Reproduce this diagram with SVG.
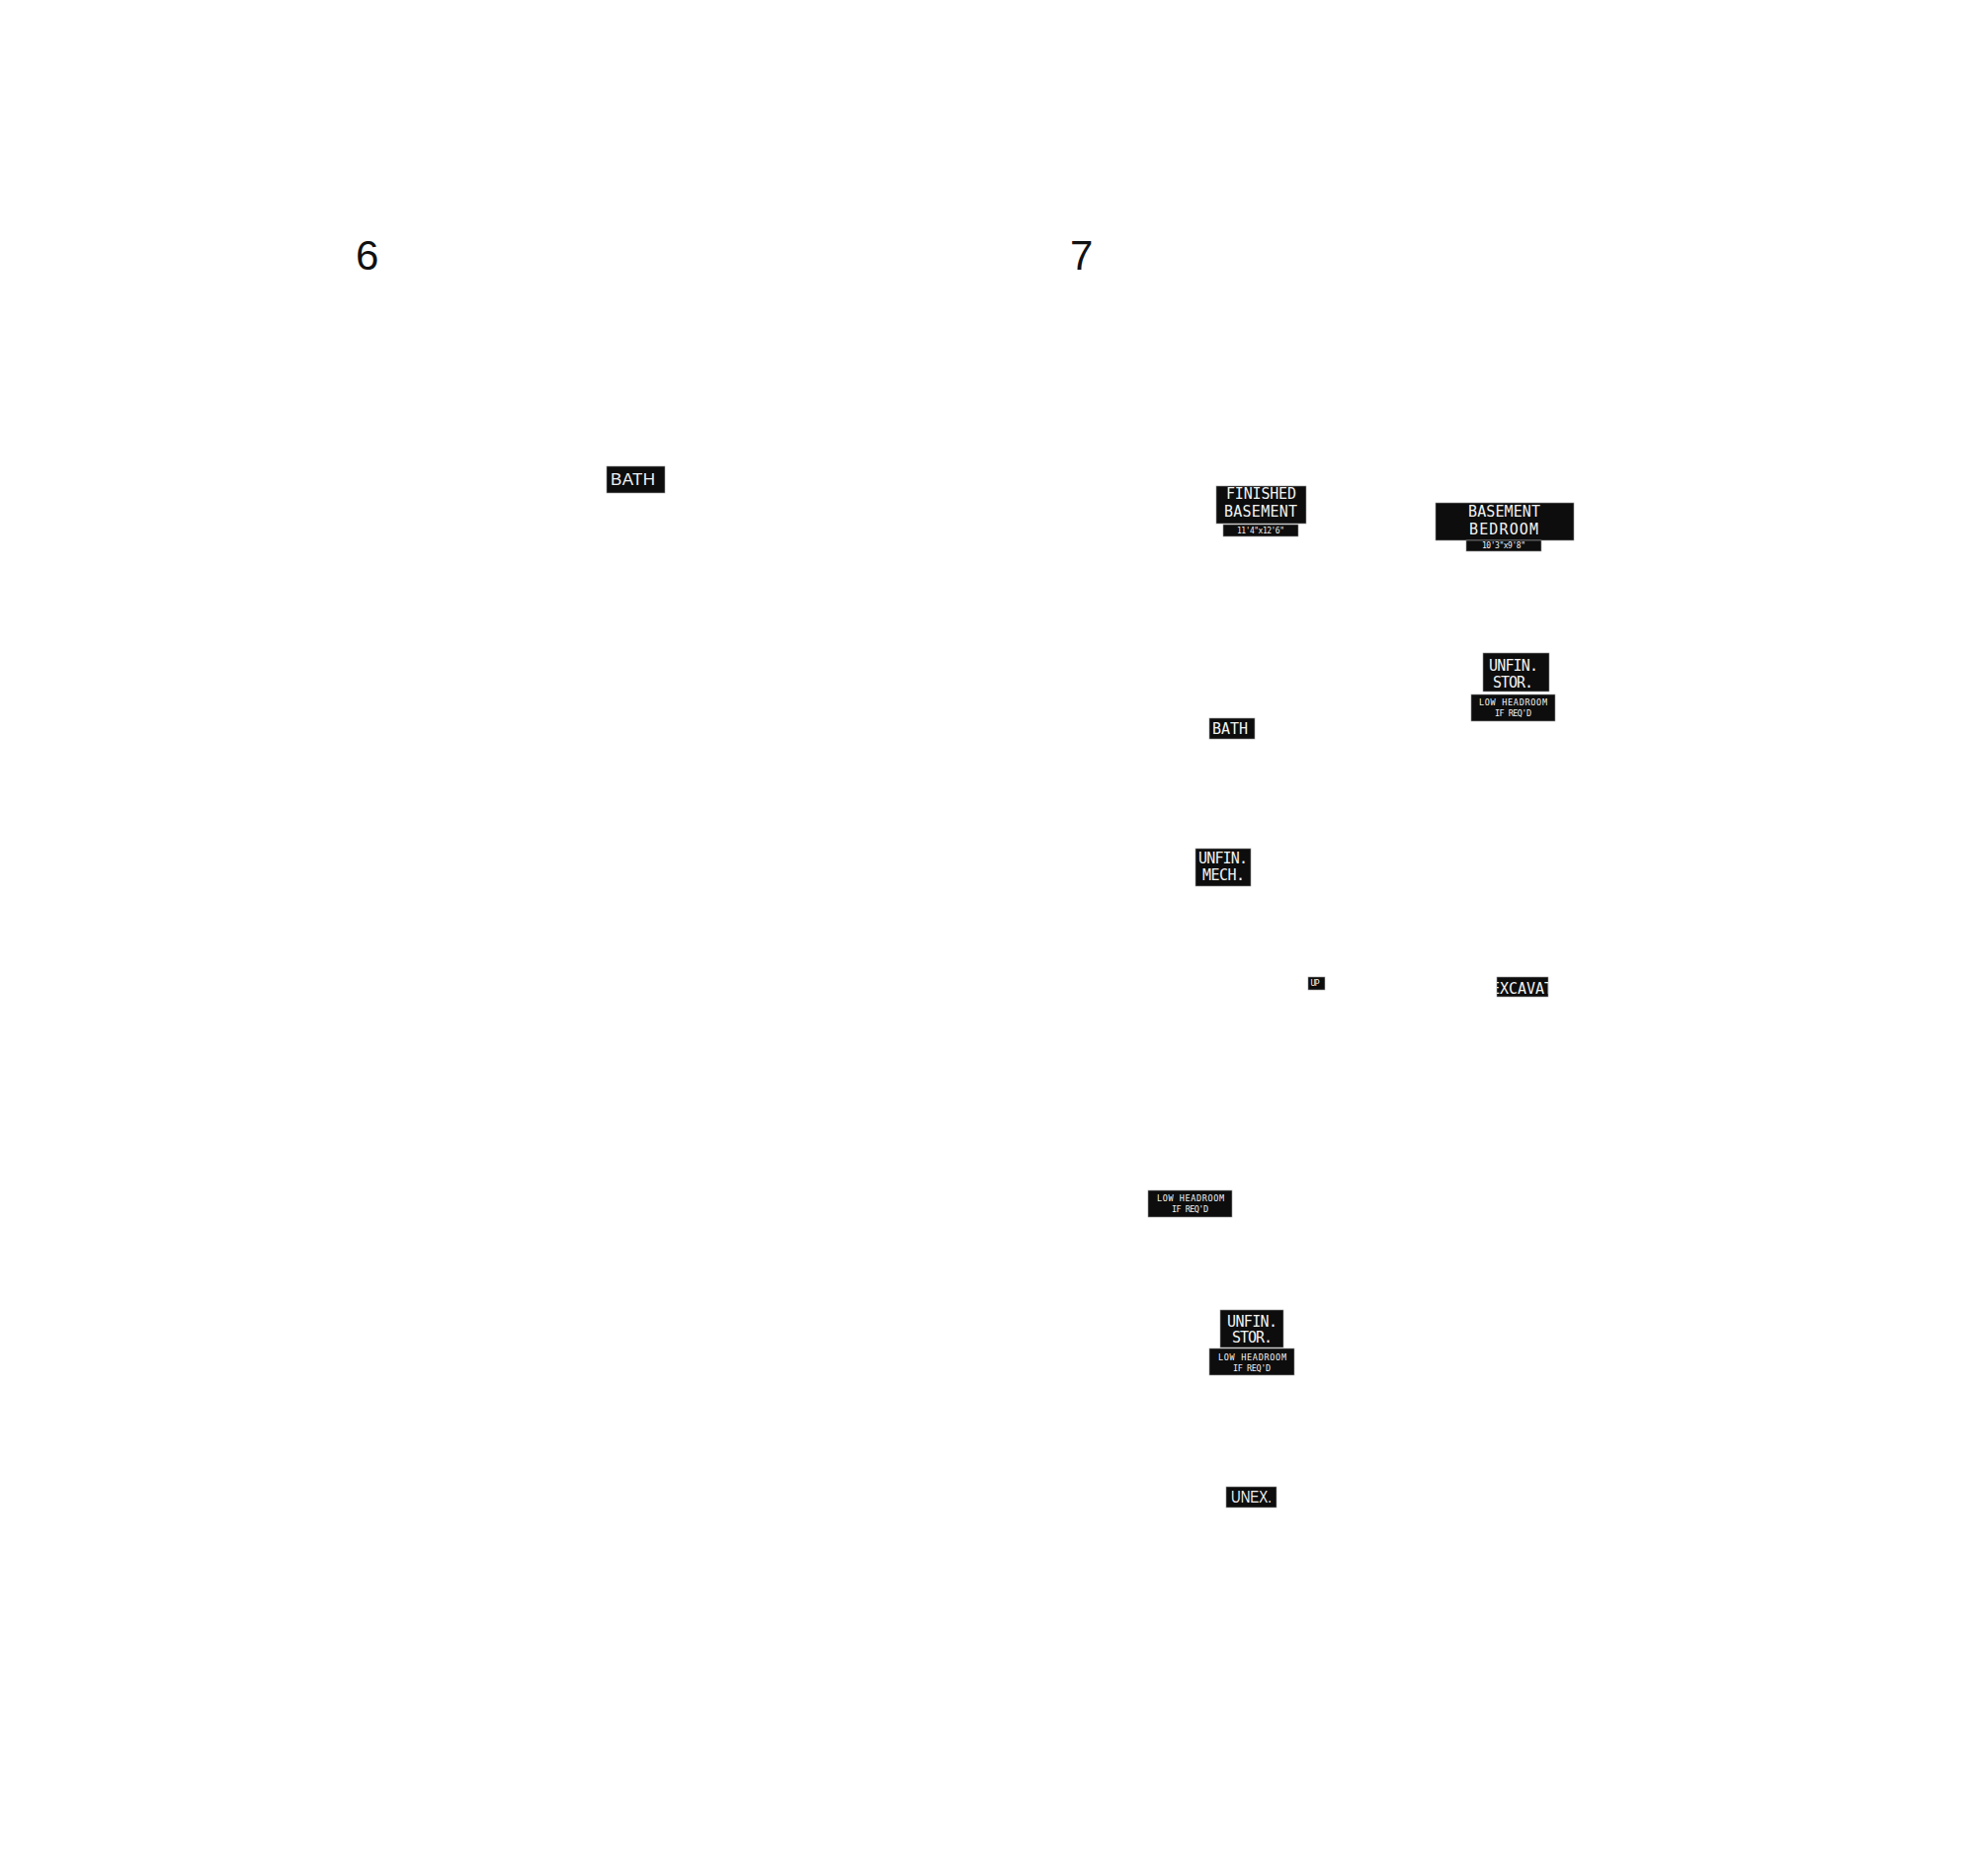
<svg xmlns="http://www.w3.org/2000/svg" width="2000" height="1899" viewBox="0 0 2000 1899">
<style>
.num{font-family:"Liberation Sans",Arial,sans-serif;font-size:42px;fill:#111}
.box{fill:#0d0d0d;stroke:#9a9a9a;stroke-width:0.6}
.lbl{font-family:"DejaVu Sans Mono","Liberation Mono",monospace;font-size:15px;fill:#f2f2f2;text-anchor:middle}
.lbs{font-family:"Liberation Sans",Arial,sans-serif;font-size:17px;fill:#f2f2f2;text-anchor:middle}
.sm{font-family:"DejaVu Sans Mono","Liberation Mono",monospace;font-size:8.5px;fill:#f2f2f2;text-anchor:middle}
.dim{font-family:"DejaVu Sans Mono","Liberation Mono",monospace;font-size:8px;fill:#f2f2f2;text-anchor:middle}
</style>
<defs>
<clipPath id="clipX"><rect x="1515" y="989" width="52" height="20"/></clipPath>
</defs>
<rect x="0" y="0" width="2000" height="1899" fill="#ffffff"/>
<g id="titles">
<text class="num" x="360" y="273">6</text>
<text class="num" x="1083" y="273">7</text>
</g>
<g id="connectors"></g>
<g id="bath-left">
<rect class="box" x="614" y="472" width="59" height="27"/>
<text class="lbs" x="640.5" y="491" textLength="45">BATH</text>
</g>
<g id="finished-basement">
<rect class="box" x="1231" y="492" width="91" height="38"/>
<text class="lbl" x="1276.5" y="505" textLength="71">FINISHED</text>
<text class="lbl" x="1276" y="523" textLength="74">BASEMENT</text>
<rect class="box" x="1238" y="531" width="76" height="12"/>
<text class="dim" x="1276" y="540" textLength="48">11'4"x12'6"</text>
</g>
<g id="basement-bedroom">
<rect class="box" x="1453" y="509" width="140" height="38"/>
<text class="lbl" x="1522.5" y="523" textLength="73">BASEMENT</text>
<text class="lbl" x="1522" y="541" textLength="70">BEDROOM</text>
<rect class="box" x="1484" y="547" width="76" height="11"/>
<text class="dim" x="1522" y="555" textLength="44">10'3"x9'8"</text>
</g>
<g id="unfin-stor-right">
<rect class="box" x="1501" y="661" width="67" height="39"/>
<text class="lbl" x="1532" y="679" textLength="50">UNFIN.</text>
<text class="lbl" x="1531.5" y="696" textLength="41">STOR.</text>
<rect class="box" x="1489" y="703" width="85" height="27"/>
<text class="sm" x="1531.5" y="714" textLength="69">LOW HEADROOM</text>
<text class="sm" x="1531.5" y="725" textLength="37">IF REQ'D</text>
</g>
<g id="bath-mid">
<rect class="box" x="1224" y="727" width="46" height="21"/>
<text class="lbl" x="1245" y="743" textLength="36">BATH</text>
</g>
<g id="unfin-mech">
<rect class="box" x="1210" y="859" width="56" height="38"/>
<text class="lbl" x="1238" y="874" textLength="50">UNFIN.</text>
<text class="lbl" x="1238.5" y="891" textLength="43">MECH.</text>
</g>
<g id="up">
<rect class="box" x="1324" y="989" width="17" height="13"/>
<text class="sm" x="1331" y="998" font-size="8" textLength="9">UP</text>
</g>
<g id="excavation">
<rect class="box" x="1515" y="989" width="52" height="20"/>
<g clip-path="url(#clipX)">
<text class="lbl" x="1509" y="1006" style="text-anchor:start" textLength="90">EXCAVATION</text>
</g>
</g>
<g id="low-headroom">
<rect class="box" x="1162" y="1205" width="85" height="27"/>
<text class="sm" x="1205" y="1216" textLength="68">LOW HEADROOM</text>
<text class="sm" x="1204.5" y="1227" textLength="37">IF REQ'D</text>
</g>
<g id="unfin-stor-bottom">
<rect class="box" x="1235" y="1326" width="64" height="38"/>
<text class="lbl" x="1267.5" y="1343" textLength="51">UNFIN.</text>
<text class="lbl" x="1267.5" y="1359" textLength="41">STOR.</text>
<rect class="box" x="1224" y="1365" width="86" height="27"/>
<text class="sm" x="1267.5" y="1377" textLength="69">LOW HEADROOM</text>
<text class="sm" x="1267" y="1388" textLength="38">IF REQ'D</text>
</g>
<g id="unex">
<rect class="box" x="1241" y="1505" width="51" height="21"/>
<text class="lbs" x="1266.5" y="1521" font-size="15" textLength="41" lengthAdjust="spacingAndGlyphs">UNEX.</text>
</g>
</svg>
